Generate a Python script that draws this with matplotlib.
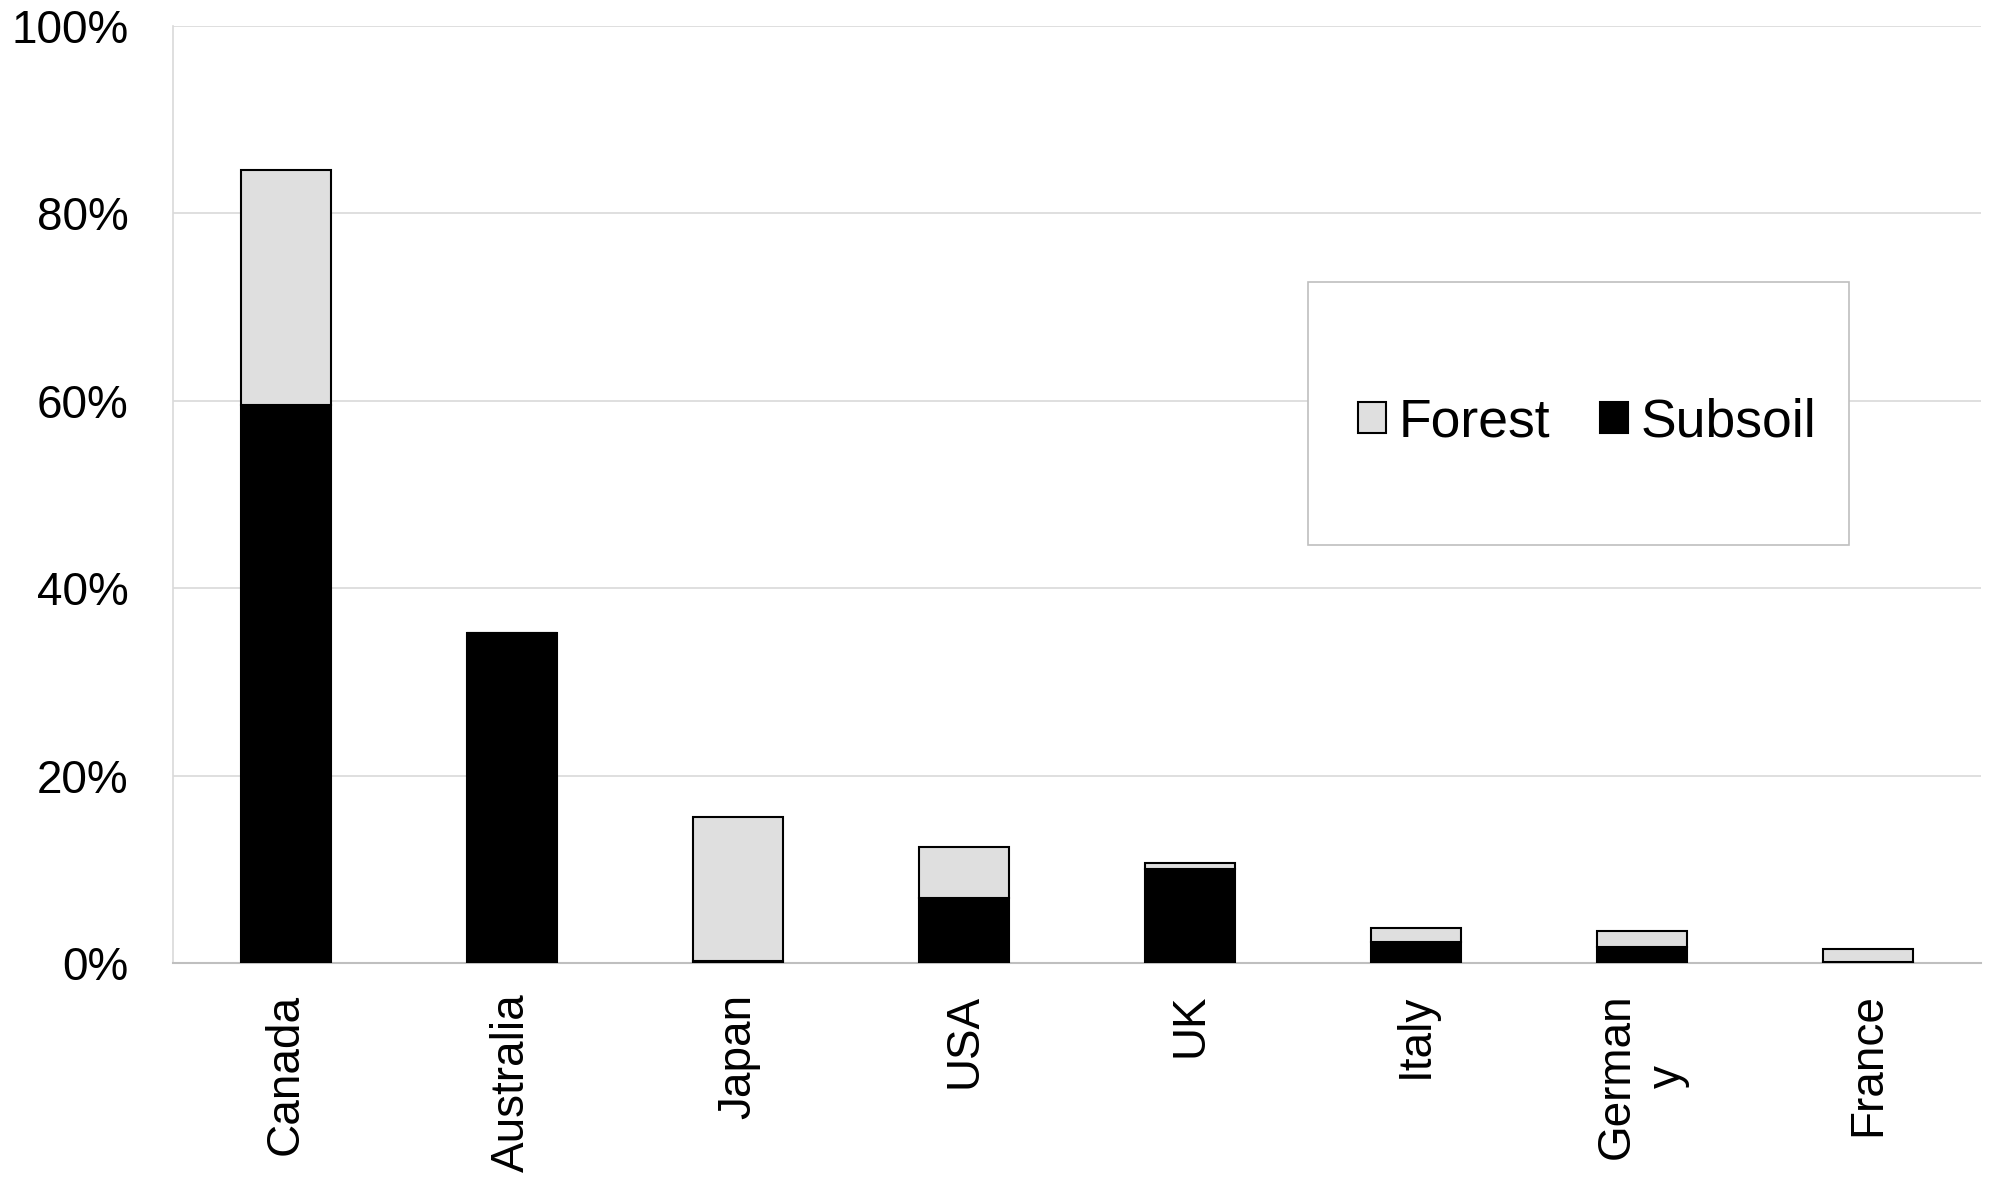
import matplotlib
matplotlib.use("Agg")
import matplotlib.pyplot as plt
from matplotlib.patches import Rectangle, Patch
import numpy as np

plt.rcParams['font.family'] = ['Liberation Sans', 'DejaVu Sans']

countries = ["Canada", "Australia", "Japan", "USA", "UK", "Italy", "German\ny", "France"]
subsoil = [59.5, 35.2, 0.2, 6.9, 10.0, 2.2, 1.7, 0.15]
forest = [25.1, 0.0, 15.4, 5.5, 0.65, 1.5, 1.75, 1.3]

forest_color = "#dfdfdf"
subsoil_color = "#000000"

fig = plt.figure(figsize=(19.91, 11.82), dpi=100)
ax = fig.add_axes([0.0869, 0.1853, 0.9081, 0.7927])

x = np.arange(len(countries))
ax.bar(x, subsoil, width=0.4, color=subsoil_color, edgecolor="black", linewidth=1.5, zorder=3)
ax.bar(x, forest, width=0.4, bottom=subsoil, color=forest_color, edgecolor="black", linewidth=1.5, zorder=3)

ax.set_xlim(-0.5, len(countries) - 0.5)
ax.set_ylim(0, 100)
ax.set_yticks(np.arange(0, 101, 20))
ax.set_yticklabels([f"{v}%" for v in range(0, 101, 20)])
ax.set_xticks(x)
ax.set_xticklabels(countries, rotation=90, ha="center", va="top", multialignment="center")

ax.tick_params(axis="y", length=0, pad=32, labelsize=33)
ax.tick_params(axis="x", length=0, pad=22, labelsize=33)

ax.grid(axis="y", color="#d9d9d9", linewidth=1.2, zorder=0)
for s in ["top", "right"]:
    ax.spines[s].set_visible(False)
ax.spines["left"].set_color("#d9d9d9")
ax.spines["bottom"].set_color("#bfbfbf")
ax.spines["left"].set_linewidth(1.2)
ax.spines["bottom"].set_linewidth(1.5)

# legend box
ax.add_patch(Rectangle((0.628, 0.446), 0.299, 0.281, transform=ax.transAxes,
                       facecolor="white", edgecolor="#bfbfbf", linewidth=1.2, zorder=4, clip_on=False))
handles = [Patch(facecolor=forest_color, edgecolor="black", linewidth=1.5, label="Forest"),
           Patch(facecolor=subsoil_color, edgecolor="black", linewidth=1.5, label="Subsoil")]
leg = ax.legend(handles=handles, loc="center", bbox_to_anchor=(0.782, 0.577), ncol=2,
                frameon=False, fontsize=38.5, handlelength=0.52, handleheight=0.52,
                handletextpad=0.24, columnspacing=0.93)
leg.set_zorder(5)

fig.savefig("out.png", dpi=100)
